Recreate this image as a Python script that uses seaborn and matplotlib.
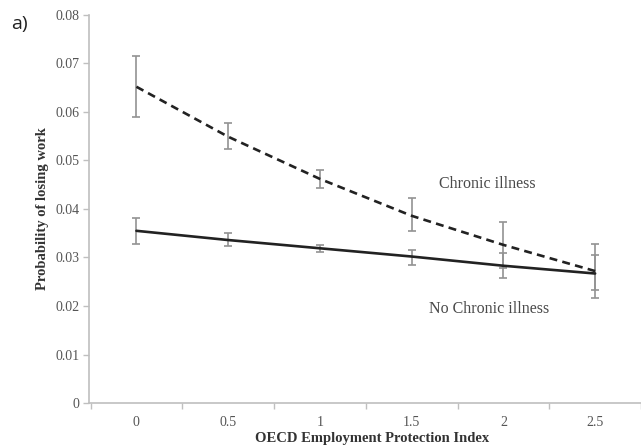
import numpy as np
import pandas as pd
import seaborn as sns
import matplotlib.pyplot as plt

# values
epl_index = [0, 0.5, 1, 1.5, 2, 2.5]
tick_labels = ['0', '0.5', '1', '1.5', '2', '2.5']

chronic = [0.0652, 0.0549, 0.0462, 0.0386, 0.0326, 0.0272]
chronic_lo = [0.0590, 0.0523, 0.0443, 0.0354, 0.0279, 0.0217]
chronic_hi = [0.0716, 0.0578, 0.0481, 0.0423, 0.0373, 0.0328]

no_chronic = [0.0355, 0.0336, 0.0319, 0.0302, 0.0283, 0.0267]
no_chronic_lo = [0.0327, 0.0323, 0.0311, 0.0285, 0.0257, 0.0232]
no_chronic_hi = [0.0382, 0.0350, 0.0326, 0.0316, 0.0310, 0.0305]

df = pd.DataFrame({
    'epl': epl_index * 2,
    'prob': chronic + no_chronic,
    'lo': chronic_lo + no_chronic_lo,
    'hi': chronic_hi + no_chronic_hi,
    'group': ['Chronic illness'] * 6 + ['No Chronic illness'] * 6,
})

sns.set_style('white')
plt.rcParams['font.family'] = ['Liberation Serif', 'DejaVu Serif']

fig = plt.figure(figsize=(6.41, 4.46), dpi=100)
ax = fig.add_axes([0.139, 0.0964, 0.861, 0.87])

err_col = '#929292'
for grp in ['Chronic illness', 'No Chronic illness']:
    sub = df[df['group'] == grp]
    yerr = np.vstack([sub['prob'] - sub['lo'], sub['hi'] - sub['prob']])
    ax.errorbar(sub['epl'], sub['prob'], yerr=yerr, fmt='none', ecolor=err_col,
                elinewidth=1.2, capsize=3, capthick=1.2, zorder=1)

sns.lineplot(data=df, x='epl', y='prob', style='group',
             dashes={'Chronic illness': (3, 2), 'No Chronic illness': ''},
             color='#222222', linewidth=1.9, legend=False, ax=ax, zorder=2)

ax.text(1.91, 0.0452, 'Chronic illness', ha='center', va='center',
        fontsize=11.5, color='#4a4a4a')
ax.text(1.92, 0.0193, 'No Chronic illness', ha='center', va='center',
        fontsize=11.5, color='#4a4a4a')

ax.set_xlim(-0.258, 2.71)
ax.set_ylim(0, 0.08)
ax.set_xticks(epl_index)
ax.set_xticklabels(tick_labels)
ax.set_xticks(np.arange(-0.25, 2.8, 0.5), minor=True)
ax.set_yticks(np.arange(0, 0.081, 0.01))
ax.set_yticklabels(['0'] + ['%.2f' % v for v in np.arange(0.01, 0.081, 0.01)])
ax.tick_params(axis='x', which='major', length=0, pad=9, labelsize=10, labelcolor='#555555')
ax.tick_params(axis='x', which='minor', length=4, width=1, color='#bfbfbf', direction='out', bottom=True)
ax.tick_params(axis='y', length=4, width=1, color='#bfbfbf', direction='out', left=True,
               labelsize=10, labelcolor='#555555', pad=3)

for side in ['top', 'right']:
    ax.spines[side].set_visible(False)
for side in ['left', 'bottom']:
    ax.spines[side].set_color('#bfbfbf')
    ax.spines[side].set_linewidth(1.2)

ax.set_xlabel('OECD Employment Protection Index', fontsize=10.5, fontweight='bold', color='#333333')
ax.set_ylabel('Probability of losing work', fontsize=10.5, fontweight='bold', color='#333333')
ax.xaxis.set_label_coords(0.513, -0.075)
ax.yaxis.set_label_coords(-0.072, 0.50)

fig.text(0.018, 0.946, 'a)', fontsize=14, family='Open Sans', color='#222222', va='center')

fig.savefig('out.png', dpi=100)
